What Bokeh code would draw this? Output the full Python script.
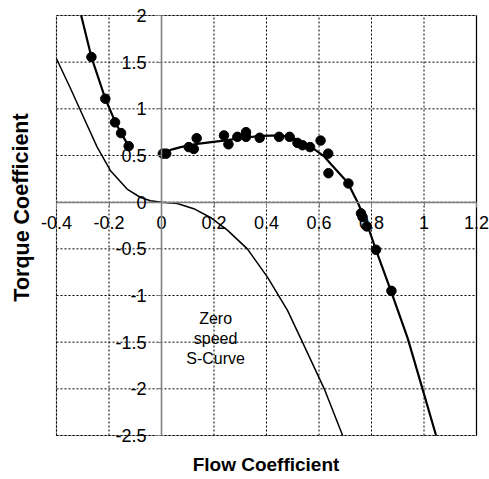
from bokeh.plotting import figure
from bokeh.models import Range1d, FixedTicker, Label
from bokeh.embed import file_html
from bokeh.resources import INLINE

# ticks
x_ticks = [-0.4, -0.2, 0, 0.2, 0.4, 0.6, 0.8, 1.0, 1.2]
x_tick_labels = ["-0.4", "-0.2", "0", "0.2", "0.4", "0.6", "0.8", "1", "1.2"]
y_ticks = [-2.5, -2, -1.5, -1, -0.5, 0, 0.5, 1, 1.5, 2]
y_tick_labels = ["-2.5", "-2", "-1.5", "-1", "-0.5", "0", "0.5", "1", "1.5", "2"]

# measured points
meas_x = [-0.267, -0.214, -0.177, -0.154, -0.125, 0.005, 0.018, 0.104, 0.123, 0.134,
          0.238, 0.255, 0.289, 0.322, 0.322, 0.374, 0.448, 0.488, 0.518, 0.537,
          0.566, 0.606, 0.635, 0.636, 0.712, 0.760, 0.766, 0.782, 0.817, 0.876]
meas_y = [1.555, 1.108, 0.855, 0.74, 0.60, 0.52, 0.52, 0.59, 0.57, 0.685,
          0.715, 0.62, 0.70, 0.75, 0.70, 0.69, 0.70, 0.70, 0.635, 0.61,
          0.59, 0.66, 0.52, 0.31, 0.20, -0.12, -0.16, -0.26, -0.51, -0.95]

# fitted curve, left branch
fit_left_x = [-0.306, -0.267, -0.214, -0.176, -0.154, -0.125]
fit_left_y = [2.0, 1.555, 1.108, 0.857, 0.74, 0.60]

# fitted curve, right branch
fit_right_x = [0.0, 0.035, 0.073, 0.136, 0.237, 0.314, 0.38, 0.454, 0.50, 0.54,
               0.58, 0.62, 0.645, 0.709, 0.747, 0.785, 0.817, 0.874, 0.938, 0.989, 1.046]
fit_right_y = [0.52, 0.56, 0.59, 0.625, 0.66, 0.69, 0.71, 0.715, 0.69, 0.64,
               0.57, 0.49, 0.41, 0.21, 0.0, -0.25, -0.51, -0.95, -1.46, -1.95, -2.5]

# zero speed S-curve
s_x = [-0.4, -0.347, -0.297, -0.245, -0.195, -0.131, -0.08, -0.042, 0.0,
       0.06, 0.123, 0.19, 0.251, 0.327, 0.403, 0.48, 0.537, 0.62, 0.69]
s_y = [1.537, 1.22, 0.91, 0.59, 0.34, 0.14, 0.05, 0.015, 0.0,
       -0.015, -0.07, -0.17, -0.30, -0.50, -0.80, -1.16, -1.50, -2.0, -2.5]

note_text = "Zero\nspeed\nS-Curve"
x_title = "Flow Coefficient"
y_title = "Torque Coefficient"

FONT = "Liberation Sans"

# layout: canvas and plot box position in pixels
W, H = 489, 479
BOX_L, BOX_R, BOX_T, BOX_B = 56, 476, 15, 435
x0, x1 = x_ticks[0], x_ticks[-1]
y0, y1 = y_ticks[0], y_ticks[-1]
sx = (BOX_R - BOX_L) / (x1 - x0)
sy = (BOX_B - BOX_T) / (y1 - y0)
xr = Range1d(x0 - BOX_L / sx, x1 + (W - BOX_R) / sx)
yr = Range1d(y0 - (H - BOX_B) / sy, y1 + BOX_T / sy)

p = figure(width=W, height=H, output_backend="svg", toolbar_location=None,
           x_range=xr, y_range=yr,
           min_border_left=0, min_border_right=0, min_border_top=0, min_border_bottom=0)
p.outline_line_color = None
p.background_fill_color = "white"
p.border_fill_color = "white"
p.xgrid.visible = False
p.ygrid.visible = False

# plot box outline (grey)
p.quad(left=[x0], right=[x1], bottom=[y0], top=[y1], fill_color=None,
       line_color="#9a9a9a", line_width=1.2)

# dotted grid
p.segment(x0=x_ticks, y0=[y0] * len(x_ticks), x1=x_ticks, y1=[y1] * len(x_ticks),
          line_color="black", line_width=1, line_dash="2 2")
p.segment(x0=[x0] * len(y_ticks), y0=y_ticks, x1=[x1] * len(y_ticks), y1=y_ticks,
          line_color="black", line_width=1, line_dash="2 2")
# right edge solid
p.segment(x0=[x1], y0=[y0], x1=[x1], y1=[y1], line_color="black", line_width=1.2)

for ax, ticks, labels in ((p.xaxis[0], x_ticks, x_tick_labels), (p.yaxis[0], y_ticks, y_tick_labels)):
    ax.fixed_location = 0
    ax.bounds = (ticks[0], ticks[-1])
    ax.ticker = FixedTicker(ticks=ticks)
    ax.major_label_overrides = {t: l for t, l in zip(ticks, labels)}
    ax.minor_tick_line_color = None
    ax.major_tick_in = 0
    ax.major_tick_out = 5
    ax.major_tick_line_color = "#808080"
    ax.axis_line_color = "#808080"
    ax.axis_line_width = 1.6
    ax.major_label_text_font = FONT
    ax.major_label_text_font_size = "18px"
    ax.major_label_text_color = "black"
p.xaxis.major_label_standoff = 9
p.yaxis.major_label_standoff = 10

p.line(s_x, s_y, line_color="black", line_width=1.5)
p.line(fit_left_x, fit_left_y, line_color="black", line_width=2.2)
p.line(fit_right_x, fit_right_y, line_color="black", line_width=2.2)
p.scatter(meas_x, meas_y, size=9.5, fill_color="black", line_color="black")

p.add_layout(Label(x=0.206, y=-1.46, text=note_text, text_align="center", text_baseline="middle",
                   text_font=FONT, text_font_size="16px", text_line_height=1.2,
                   text_color="black"))
p.add_layout(Label(x=265.5, y=15, x_units="screen", y_units="screen", text=x_title,
                   text_align="center", text_baseline="middle", text_font=FONT,
                   text_font_size="19px", text_font_style="bold", text_color="black"))
p.add_layout(Label(x=21, y=272, x_units="screen", y_units="screen", text=y_title, angle=1.5708,
                   text_align="center", text_baseline="middle", text_font=FONT,
                   text_font_size="21.5px", text_font_style="bold", text_color="black"))

open("out.html", "w").write(file_html(p, INLINE))
